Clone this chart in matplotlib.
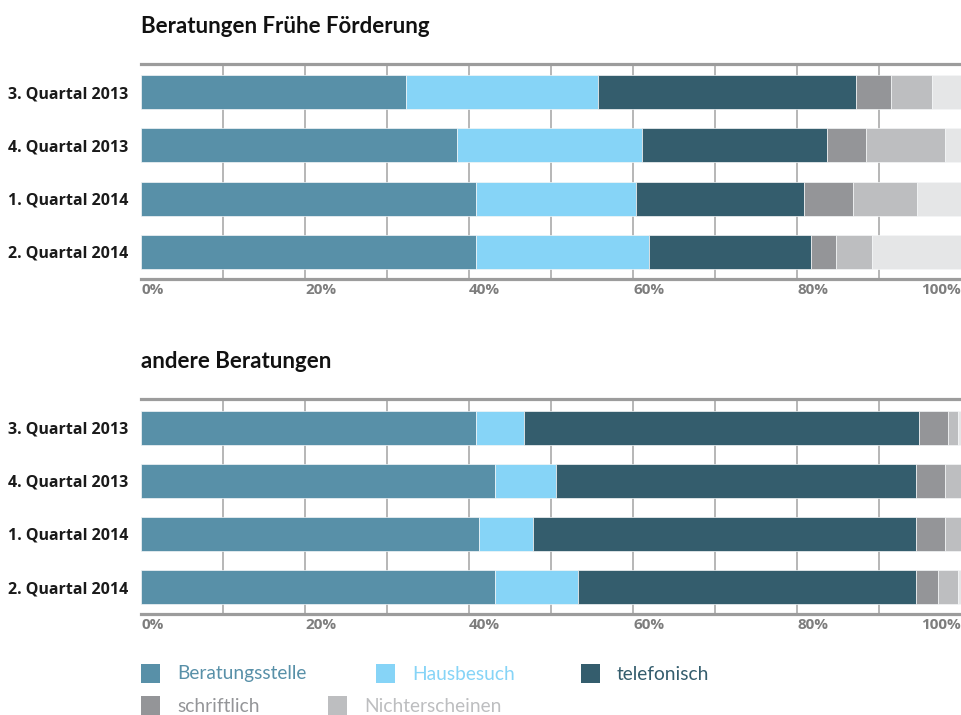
import matplotlib.pyplot as plt
from matplotlib.patches import Rectangle

plt.rcParams['font.family'] = ['Lato', 'DejaVu Sans']

quartale = ["3. Quartal 2013", "4. Quartal 2013", "1. Quartal 2014", "2. Quartal 2014"]
kategorien = ["Beratungsstelle", "Hausbesuch", "telefonisch", "schriftlich", "Nichterscheinen"]
farben = ["#5890A8", "#86D4F7", "#345D6D", "#949598", "#BDBEC0", "#E5E6E7"]

# Beratungen Frühe Förderung (Anteile in %)
beratungsstelle_ff = [32.3, 38.5, 40.9, 40.9]
hausbesuch_ff = [23.4, 22.6, 19.5, 21.0]
telefonisch_ff = [31.5, 22.6, 20.5, 19.8]
schriftlich_ff = [4.2, 4.7, 5.9, 3.1]
nichterscheinen_ff = [5.1, 9.7, 7.8, 4.3]
rest_ff = [3.5, 1.9, 5.4, 10.9]

# andere Beratungen (Anteile in %)
beratungsstelle_an = [40.8, 43.2, 41.2, 43.2]
hausbesuch_an = [5.9, 7.4, 6.6, 10.1]
telefonisch_an = [48.2, 43.9, 46.7, 41.2]
schriftlich_an = [3.5, 3.5, 3.5, 2.7]
nichterscheinen_an = [1.2, 2.0, 2.0, 2.4]
rest_an = [0.4, 0.0, 0.0, 0.4]

ticks = [0, 20, 40, 60, 80, 100]

fig = plt.figure(figsize=(9.62, 7.15), dpi=100)


def panel(rect, serien, titel, titel_y):
    ax = fig.add_axes(rect)
    y = list(range(len(quartale)))
    links = [0.0] * len(quartale)
    for werte, farbe in zip(serien, farben):
        ax.barh(y, werte, left=links, height=0.64, color=farbe,
                edgecolor="#f4f6f7", linewidth=0.5, zorder=3)
        links = [a + b for a, b in zip(links, werte)]
    ax.set_xlim(0, 100)
    ax.set_ylim(3.51, -0.53)
    for gx in range(10, 100, 10):
        ax.axvline(gx, color="#a3a3a3", linewidth=1.1, zorder=1)
    for s in ["left", "right"]:
        ax.spines[s].set_visible(False)
    for s in ["top", "bottom"]:
        ax.spines[s].set_color("#9c9c9c")
        ax.spines[s].set_linewidth(2.3)
    ax.set_yticks(y)
    ax.set_yticklabels(quartale, fontsize=11.5, fontweight="bold", color="#1a1a1a",
                       family=["Open Sans", "DejaVu Sans"])
    ax.set_xticks(ticks)
    ax.set_xticklabels([f"{t}%" for t in ticks], fontsize=11, fontweight="bold", color="#7d7d7d",
                       family=["Open Sans", "DejaVu Sans"])
    for lab in ax.get_xticklabels()[:-1]:
        lab.set_ha("left")
    ax.get_xticklabels()[-1].set_ha("right")
    ax.tick_params(axis="y", length=0, pad=9)
    ax.tick_params(axis="x", length=0, pad=3)
    fig.text(rect[0], titel_y, titel, fontsize=16, fontweight="bold",
             color="#111111", va="baseline", ha="left")
    return ax


panel([0.1466, 0.6098, 0.8524, 0.3007],
      [beratungsstelle_ff, hausbesuch_ff, telefonisch_ff, schriftlich_ff, nichterscheinen_ff, rest_ff],
      "Beratungen Frühe Förderung", 0.9534)
panel([0.1466, 0.1408, 0.8524, 0.3007],
      [beratungsstelle_an, hausbesuch_an, telefonisch_an, schriftlich_an, nichterscheinen_an, rest_an],
      "andere Beratungen", 0.4853)

# Legende
W, H = 962, 715
legende_pos = [(141, 674), (376, 674), (581, 674), (141, 706), (328, 706)]
for name, farbe, (px, py) in zip(kategorien, farben, legende_pos):
    fig.add_artist(Rectangle((px / W, 1 - (py + 9) / H), 19 / W, 19 / H,
                             transform=fig.transFigure, facecolor=farbe, edgecolor="none"))
    fig.text((px + 36) / W, 1 - py / H, name, fontsize=13.8, color=farbe,
             va="center", ha="left")

fig.savefig("out.png", dpi=100)
